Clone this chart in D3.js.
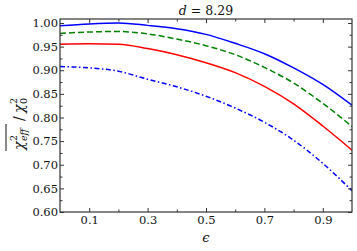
<!DOCTYPE html>
<html>
<head>
<meta charset="utf-8">
<script src="https://cdn.jsdelivr.net/npm/d3@7"></script>
<style>
  body { margin: 0; background: #fff; }
  text { font-family: "DejaVu Serif", serif; fill: #111; }
</style>
</head>
<body>
<div class="chart"></div>
<script>
var svgWidth = 357;
var svgHeight = 251;

var margin = { top: 19, right: 5, bottom: 39, left: 60 };
var width = 352 - margin.left;
var height = 212 - margin.top;

// values
var eps = [0, 0.1, 0.2, 0.3, 0.4, 0.5, 0.6, 0.7, 0.8, 0.9, 1.0];
var blueSolid = [0.994, 0.998, 1.000, 0.995, 0.988, 0.976, 0.957, 0.935, 0.905, 0.870, 0.826];
var greenDashed = [0.978, 0.981, 0.982, 0.977, 0.966, 0.952, 0.933, 0.906, 0.873, 0.830, 0.781];
var redSolid = [0.955, 0.956, 0.955, 0.946, 0.933, 0.916, 0.895, 0.866, 0.829, 0.782, 0.731];
var blueDashDot = [0.908, 0.905, 0.898, 0.881, 0.865, 0.845, 0.820, 0.790, 0.752, 0.703, 0.645];

var xTicks = [0.1, 0.3, 0.5, 0.7, 0.9];
var yTicks = [0.60, 0.65, 0.70, 0.75, 0.80, 0.85, 0.90, 0.95, 1.00];
var titleText = "8.29";

var series = [
    { values: blueSolid, color: "#0000ff", dash: null },
    { values: greenDashed, color: "#008000", dash: "6,3" },
    { values: redSolid, color: "#ff0000", dash: null },
    { values: blueDashDot, color: "#0000ff", dash: "5,2.5,1.5,2.5" }
];

var svg = d3.select(".chart").append("svg")
    .attr("width", svgWidth)
    .attr("height", svgHeight);

var chartGroup = svg.append("g")
    .attr("transform", `translate(${margin.left}, ${margin.top})`);

var x = d3.scaleLinear().domain([0, 1]).range([0, width]);
var y = d3.scaleLinear().domain([0.6, 1.0085]).range([height, 0]);

// lines, clipped to the frame
chartGroup.append("clipPath").attr("id", "clip")
    .append("rect").attr("width", width).attr("height", height);

var line = d3.line()
    .x((d, i) => x(eps[i]))
    .y(d => y(d))
    .curve(d3.curveMonotoneX);

chartGroup.append("g").attr("clip-path", "url(#clip)")
    .selectAll("path")
    .data(series)
    .enter()
    .append("path")
    .attr("d", d => line(d.values))
    .attr("fill", "none")
    .attr("stroke", d => d.color)
    .attr("stroke-width", 1.5)
    .attr("stroke-dasharray", d => d.dash);

// axes with inward ticks on all four sides
var xMinor = d3.range(0.2, 0.95, 0.2);
var yMinor = d3.range(0.625, 1.0, 0.05);

function tickStyle(g) {
    g.select(".domain").remove();
    g.selectAll("line").attr("stroke", "#333");
    g.selectAll("text").attr("font-size", "11.5px");
}

chartGroup.append("g")
    .attr("transform", `translate(0,${height})`)
    .call(d3.axisBottom(x).tickValues(xTicks).tickFormat(d3.format(".1f")).tickSizeInner(-4).tickPadding(4))
    .call(tickStyle);
chartGroup.append("g")
    .attr("transform", `translate(0,${height})`)
    .call(d3.axisBottom(x).tickValues(xMinor).tickFormat("").tickSizeInner(-2.5))
    .call(tickStyle);
chartGroup.append("g")
    .call(d3.axisTop(x).tickValues(xTicks).tickFormat("").tickSizeInner(-4))
    .call(tickStyle);
chartGroup.append("g")
    .call(d3.axisTop(x).tickValues(xMinor).tickFormat("").tickSizeInner(-2.5))
    .call(tickStyle);

chartGroup.append("g")
    .call(d3.axisLeft(y).tickValues(yTicks).tickFormat(d3.format(".2f")).tickSizeInner(-4).tickPadding(2))
    .call(tickStyle);
chartGroup.append("g")
    .call(d3.axisLeft(y).tickValues(yMinor).tickFormat("").tickSizeInner(-2.5))
    .call(tickStyle);
chartGroup.append("g")
    .attr("transform", `translate(${width},0)`)
    .call(d3.axisRight(y).tickValues(yTicks).tickFormat("").tickSizeInner(-4))
    .call(tickStyle);
chartGroup.append("g")
    .attr("transform", `translate(${width},0)`)
    .call(d3.axisRight(y).tickValues(yMinor).tickFormat("").tickSizeInner(-2.5))
    .call(tickStyle);

// frame
chartGroup.append("rect")
    .attr("width", width)
    .attr("height", height)
    .attr("fill", "none")
    .attr("stroke", "#333")
    .attr("stroke-width", 1.2);

// title
var title = svg.append("text")
    .attr("x", margin.left + width / 2)
    .attr("y", 15)
    .attr("text-anchor", "middle")
    .attr("font-size", "12.5px");
title.append("tspan").attr("font-style", "italic").text("d");
title.append("tspan").text(" = " + titleText);

// x label
svg.append("text")
    .attr("x", margin.left + width / 2)
    .attr("y", 242)
    .attr("text-anchor", "middle")
    .attr("font-style", "italic")
    .attr("font-size", "13px")
    .text("ϵ");

// y label: overline(chi^2_eff) / chi_0^2
var yl = svg.append("g").attr("transform", "translate(24,121) rotate(-90)");
yl.append("text").attr("x", -29).attr("y", 0).attr("font-size", "14px").attr("font-style", "italic").text("χ");
yl.append("text").attr("x", -20).attr("y", -7).attr("font-size", "9.5px").text("2");
yl.append("text").attr("x", -20).attr("y", 3).attr("font-size", "9.5px").attr("font-style", "italic").text("eff");
yl.append("line").attr("x1", -30).attr("x2", -3).attr("y1", -18).attr("y2", -18)
    .attr("stroke", "#111").attr("stroke-width", 1);
yl.append("text").attr("x", 0).attr("y", 0).attr("font-size", "14px").text("/");
yl.append("text").attr("x", 8).attr("y", 0).attr("font-size", "14px").attr("font-style", "italic").text("χ");
yl.append("text").attr("x", 17).attr("y", -7).attr("font-size", "9.5px").text("2");
yl.append("text").attr("x", 17).attr("y", 3).attr("font-size", "9.5px").text("0");
</script>
</body>
</html>
